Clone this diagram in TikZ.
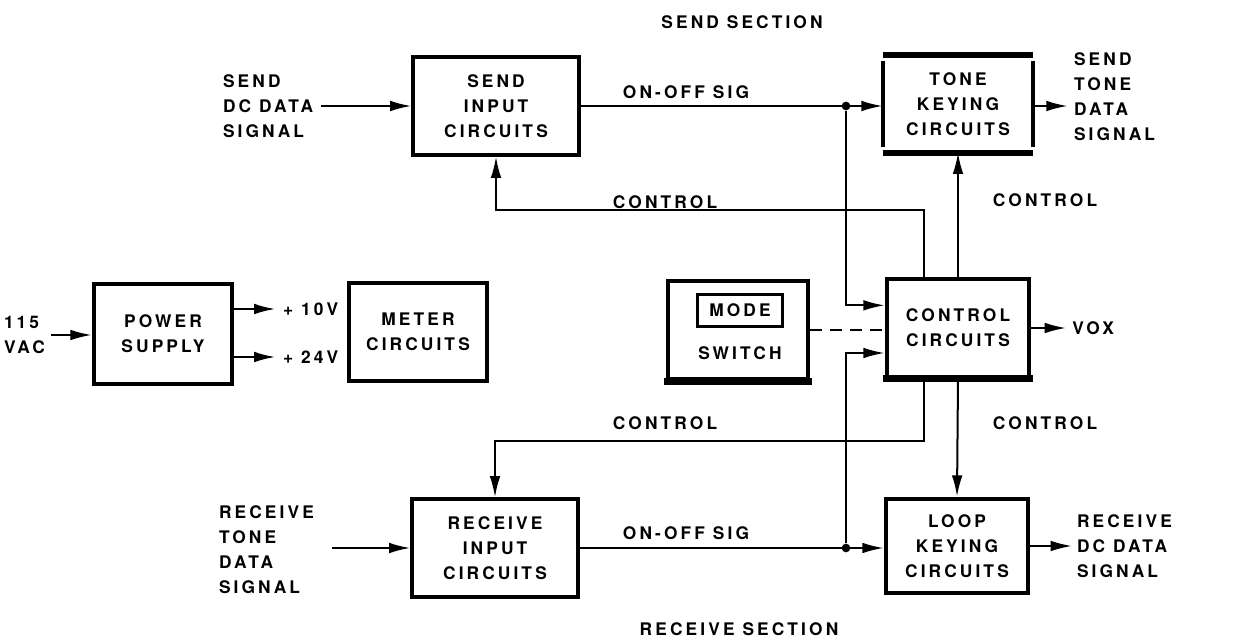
\documentclass[tikz,border=0pt]{standalone}
\usepackage{fontspec}
\setmainfont{TeX Gyre Heros}[LetterSpace=18]
\usetikzlibrary{arrows.meta,positioning}
\begin{document}
\begin{tikzpicture}[x=0.75pt, y=-0.75pt, line width=1.5pt,
  font=\fontsize{13}{18.75}\selectfont\bfseries,
  blk/.style={draw, line width=3pt, align=center, minimum width=107pt, minimum height=73pt, inner sep=2pt},
  arr/.style={-{Latex[length=16pt,width=8pt]}},
  lbl/.style={align=left, anchor=west, inner sep=0pt},
  dot/.style={circle, fill, inner sep=0pt, minimum size=6.5pt}]
\useasboundingbox (0,0) rectangle (1238,638);

\node (sendsec) at (742,22) {SEND SECTION};
\node (recvsec) at (739,629) {RECEIVE SECTION};

\node[blk, minimum width=124pt] (sin) at (496,106) {SEND\\INPUT\\CIRCUITS};
\node[blk, minimum width=124pt] (rin) at (495,548) {RECEIVE\\INPUT\\CIRCUITS};
\node[blk, draw=none, minimum width=110pt, minimum height=70pt] (tk) at (958,104) {TONE\\KEYING\\CIRCUITS};
\node[blk] (cc) at (958,328) {CONTROL\\CIRCUITS};
\node[blk, minimum height=71pt] (lk) at (957,546) {LOOP\\KEYING\\CIRCUITS};
\node[blk, minimum width=104pt, minimum height=75pt] (ps) at (163,334) {POWER\\SUPPLY};
\node[blk, minimum width=104pt, minimum height=74pt] (mc) at (418,332) {METER\\CIRCUITS};
\node[blk, minimum width=105pt, minimum height=74pt] (ms) at (738,330) {};
\node[draw, line width=2.25pt, minimum width=64pt, minimum height=24pt, inner sep=0pt] (mode) at (740,310) {MODE};
\node (switch) at (740,353) {SWITCH};

\draw[line width=4.5pt] (tk.north west) -- (tk.north east);
\draw[line width=4.5pt] (tk.south west) -- (tk.south east);
\draw[line width=3pt] ([yshift=-4pt]tk.north west) -- ([yshift=4pt]tk.south west);
\draw[line width=3pt] ([yshift=-4pt]tk.north east) -- ([yshift=4pt]tk.south east);
\draw[line width=5pt] ([xshift=-1.5pt]ms.south west) -- ([xshift=1.5pt]ms.south east);
\draw[line width=5pt] ([xshift=-1.5pt]cc.south west) -- ([xshift=1.5pt]cc.south east);

\node[lbl] (sdin) at (222,106) {SEND\\DC DATA\\SIGNAL};
\node[lbl] (rtin) at (218,550) {RECEIVE\\TONE\\DATA\\SIGNAL};
\node[lbl] (stout) at (1073,97) {SEND\\TONE\\DATA\\SIGNAL};
\node[lbl] (rdout) at (1076,546) {RECEIVE\\DC DATA\\SIGNAL};
\node[lbl] (vac) at (3,335) {115\\VAC};
\node[lbl] (v10) at (282,309) {+ 10V};
\node[lbl] (v24) at (282,357) {+ 24V};
\node[lbl] (vox) [right=30pt of cc.east] {VOX};

\node (onoff1) at (686,92) {ON-OFF SIG};
\node (onoff2) at (686,533) {ON-OFF SIG};
\node (ctl1) at (665,202) {CONTROL};
\node (ctl2) at (1045,200) {CONTROL};
\node (ctl3) at (665,423) {CONTROL};
\node (ctl4) at (1045,423) {CONTROL};

\node[dot] (j1) at (846,106) {};
\node[dot] (j2) at (846,548) {};

\draw[arr] ([xshift=5pt]sdin.east) -- (sin.west);
\draw[arr] ([xshift=13pt]rtin.east |- rin.west) -- (rin.west);
\draw[arr] (sin.east) -- (sin.east -| tk.west);
\draw[arr] (rin.east) -- (rin.east -| lk.west);
\draw[arr] (j1) |- ([yshift=17pt]cc.west);
\draw[arr] (j2) |- ([yshift=-18.75pt]cc.west);
\draw[dashed, dash pattern=on 9pt off 6pt] (ms.east) -- (ms.east -| cc.west);
\draw[arr] (tk.east |- sin.east) -- ([xshift=-4pt]sin.east -| stout.west);
\draw[arr] (lk.east) -- ([xshift=-3pt]lk.east -| rdout.west);
\draw[arr] (cc.east) -- ([xshift=-4pt]vox.west);
\draw[arr] (cc.north) -- (tk.south);
\draw[arr] (cc.south) -- (lk.north);
\draw[arr] ([xshift=-25.5pt]cc.north) -- ++(0,-67) -| (sin.south);
\draw[arr] ([xshift=-25.5pt]cc.south) -- ++(0,62) -| (rin.north);
\draw[arr] ([xshift=4pt]vac.east) -- (vac.east -| ps.west);
\draw[arr] (ps.east |- v10) -- ([xshift=-5pt]v10.west);
\draw[arr] (ps.east |- v24) -- ([xshift=-5pt]v24.west);
\end{tikzpicture}
\end{document}
